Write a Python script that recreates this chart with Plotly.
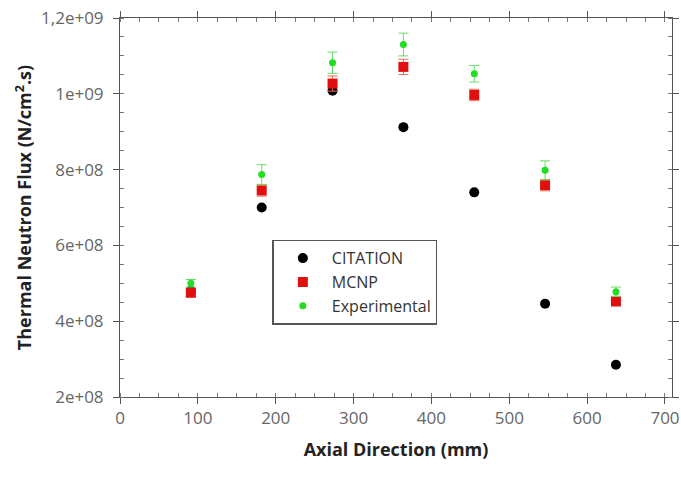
import plotly.graph_objects as go

axial_mm = [91, 182, 273, 364, 455, 546, 637]
citation = [4.80e8, 7.00e8, 1.008e9, 9.12e8, 7.40e8, 4.46e8, 2.85e8]
mcnp = [4.75e8, 7.45e8, 1.027e9, 1.071e9, 0.997e9, 7.59e8, 4.52e8]
mcnp_err = [1.0e7, 1.5e7, 2.0e7, 2.0e7, 1.5e7, 1.5e7, 1.0e7]
experimental = [5.00e8, 7.87e8, 1.082e9, 1.130e9, 1.053e9, 7.98e8, 4.78e8]
exp_err = [1.0e7, 2.6e7, 2.8e7, 3.0e7, 2.2e7, 2.5e7, 1.2e7]

y_tickvals = [2e8, 4e8, 6e8, 8e8, 1e9, 1.2e9]
y_ticktext = ["2e+08", "4e+08", "6e+08", "8e+08", "1e+09", "1,2e+09"]
x_tickvals = [0, 100, 200, 300, 400, 500, 600, 700]

fig = go.Figure()
fig.add_trace(go.Scatter(
    x=axial_mm, y=citation, mode="markers", name="CITATION",
    marker=dict(symbol="circle", size=10, color="black")))
fig.add_trace(go.Scatter(
    x=axial_mm, y=mcnp, mode="markers", name="MCNP",
    marker=dict(symbol="square", size=10, color="#e01010"),
    error_y=dict(type="data", array=mcnp_err, color="#f07050", thickness=1, width=5)))
fig.add_trace(go.Scatter(
    x=axial_mm, y=experimental, mode="markers", name="Experimental",
    marker=dict(symbol="circle", size=7, color="#22dd22"),
    error_y=dict(type="data", array=exp_err, color="#66dd66", thickness=1, width=5)))

axis_common = dict(
    showgrid=False, zeroline=False, showline=True, linecolor="#555555", linewidth=1,
    mirror="allticks", ticks="outside", ticklen=6, tickcolor="#555555",
    tickfont=dict(family="Open Sans", size=17, color="#666666"),
    minor=dict(ticks="inside", ticklen=4, tickcolor="#777777"),
    automargin=False, ticklabeloverflow="allow",
)

fig.update_layout(
    width=681, height=478,
    margin=dict(l=120, r=9, t=18, b=81),
    paper_bgcolor="white", plot_bgcolor="white",
    font=dict(family="Open Sans", color="#222222"),
    xaxis=dict(range=[0, 709], tickvals=x_tickvals,
               title=dict(text="<b>Axial Direction (mm)</b>", font=dict(size=18, color="#222222"), standoff=14),
               **axis_common),
    yaxis=dict(range=[2e8, 1.2e9], tickvals=y_tickvals, ticktext=y_ticktext,
               ticklabelstandoff=6,
               title=dict(text="<b>Thermal Neutron Flux (N/cm<sup>2</sup>.s)</b>", font=dict(size=18, color="#222222"), standoff=4),
               **axis_common),
    legend=dict(x=0.276, y=0.415, xanchor="left", yanchor="top",
                bgcolor="white", bordercolor="#555555", borderwidth=1.5,
                font=dict(family="Open Sans", size=16, color="#333333"),
                itemwidth=48, tracegroupgap=0),
    showlegend=True,
)
fig.update_xaxes(minor=dict(dtick=25))
fig.update_yaxes(minor=dict(dtick=5e7))

fig.write_html("out.html")
